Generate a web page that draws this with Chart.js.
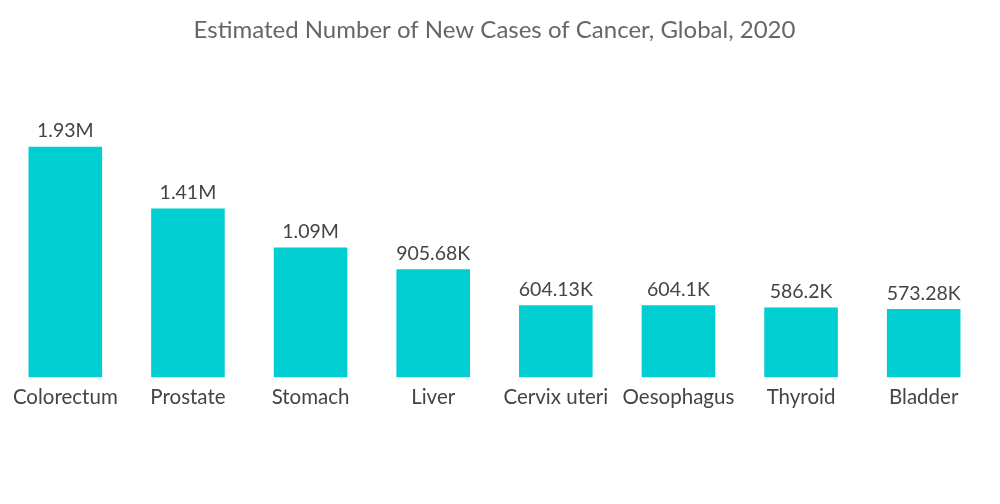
<!DOCTYPE html>
<html>
<head>
<meta charset="utf-8">
<script src="https://cdn.jsdelivr.net/npm/chart.js@4"></script>
<style>
  html, body { margin: 0; padding: 0; background: #fff; }
  #wrap { width: 1000px; height: 504px; }
</style>
</head>
<body>
<div id="wrap"><canvas id="chart"></canvas></div>
<script>
// Data
const categories = ['Colorectum', 'Prostate', 'Stomach', 'Liver', 'Cervix uteri', 'Oesophagus', 'Thyroid', 'Bladder'];
const newCases = [1931590, 1414259, 1089103, 905677, 604127, 604100, 586202, 573278];

const fmt = v => {
  if (v >= 1e6) return parseFloat((v / 1e6).toFixed(2)) + 'M';
  return parseFloat((v / 1e3).toFixed(2)) + 'K';
};

// Writes the value above each bar
const valueLabels = {
  id: 'valueLabels',
  afterDatasetsDraw(chart) {
    const ctx = chart.ctx;
    const meta = chart.getDatasetMeta(0);
    ctx.save();
    ctx.font = '19.5px Lato';
    ctx.fillStyle = '#444';
    ctx.textAlign = 'center';
    ctx.textBaseline = 'bottom';
    meta.data.forEach((bar, i) => {
      ctx.fillText(fmt(newCases[i]), bar.x, bar.y - 6);
    });
    ctx.restore();
  }
};

new Chart(document.getElementById('chart'), {
  type: 'bar',
  data: {
    labels: categories,
    datasets: [{
      data: newCases,
      backgroundColor: '#00CED1',
      barPercentage: 0.6,
      categoryPercentage: 1
    }]
  },
  options: {
    responsive: true,
    maintainAspectRatio: false,
    animation: false,
    layout: { padding: { left: 4, right: 15, bottom: 86 } },
    plugins: {
      legend: { display: false },
      tooltip: { enabled: false },
      title: {
        display: true,
        text: 'Estimated Number of New Cases of Cancer, Global, 2020',
        color: '#666',
        font: { family: 'Lato', size: 24, weight: 'normal' },
        padding: { top: 16, bottom: 70 }
      }
    },
    scales: {
      x: {
        grid: { display: false, drawTicks: false },
        border: { display: false },
        ticks: { color: '#444', padding: 8, font: { family: 'Lato', size: 20.5 } }
      },
      y: {
        display: false,
        min: 0,
        max: 2200000
      }
    }
  },
  plugins: [valueLabels]
});
</script>
</body>
</html>
